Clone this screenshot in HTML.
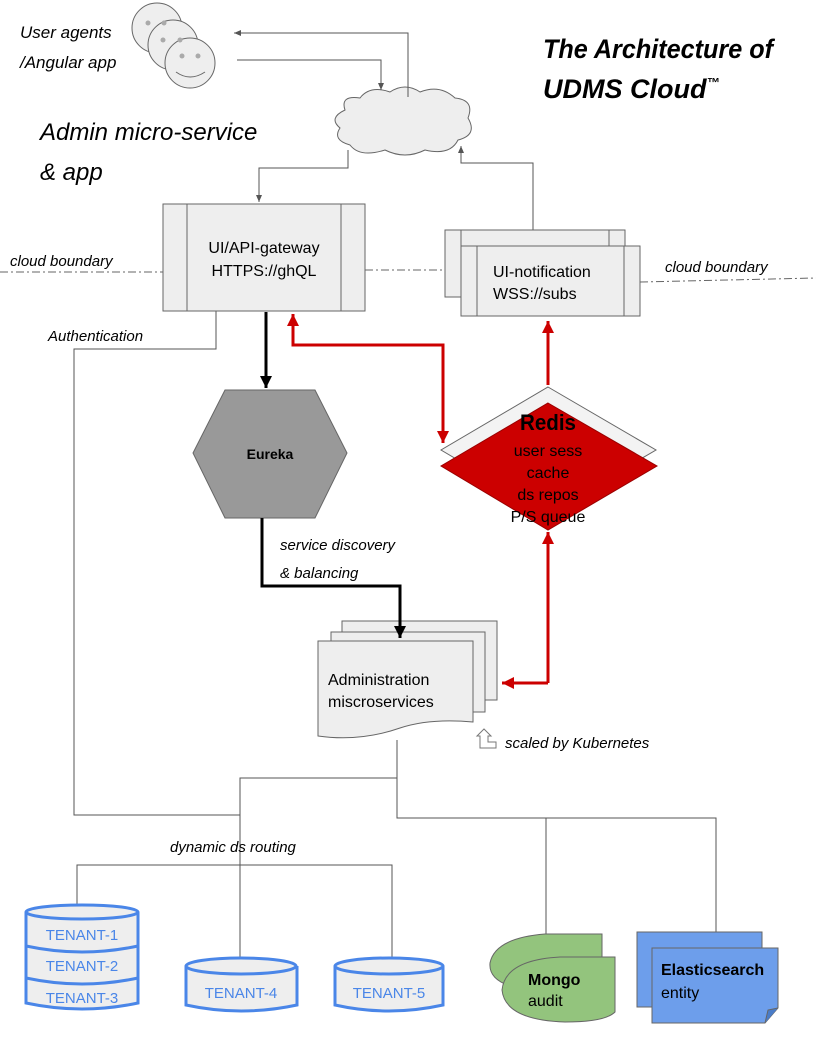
<!DOCTYPE html>
<html><head><meta charset="utf-8"><style>
html,body{margin:0;padding:0;background:#fff;}
svg{display:block;}
.hw{font-family:"Liberation Sans",sans-serif;font-style:italic;}
</style></head><body>
<svg width="816" height="1056" viewBox="0 0 816 1056" xmlns="http://www.w3.org/2000/svg" font-family="Liberation Sans, sans-serif">
<defs>
<marker id="ag" markerWidth="8" markerHeight="8" refX="7" refY="4" orient="auto" markerUnits="userSpaceOnUse"><path d="M0,1 L7,4 L0,7 z" fill="#555"/></marker>
<marker id="ab" markerWidth="14" markerHeight="14" refX="12" refY="7" orient="auto" markerUnits="userSpaceOnUse"><path d="M0,1 L12,7 L0,13 z" fill="#000"/></marker>
<marker id="ar" markerWidth="14" markerHeight="14" refX="12" refY="7" orient="auto" markerUnits="userSpaceOnUse"><path d="M0,1 L12,7 L0,13 z" fill="#c00"/></marker>
</defs>

<!-- faces -->
<g fill="#eee" stroke="#666" stroke-width="1">
<circle cx="157" cy="28" r="25"/><circle cx="173" cy="45" r="25"/><circle cx="190" cy="63" r="25"/>
</g>
<g fill="#aaa"><circle cx="148" cy="23" r="2.5"/><circle cx="164" cy="23" r="2.5"/><circle cx="163" cy="40" r="2.5"/><circle cx="180" cy="40" r="2.5"/><circle cx="182" cy="56" r="2.5"/><circle cx="198" cy="56" r="2.5"/></g>
<path d="M176,72 Q190,82 205,72" fill="none" stroke="#666"/>
<text class="hw" x="20" y="38" font-size="17">User agents</text>
<text class="hw" x="20" y="68" font-size="17">/Angular app</text>
<text class="hw" x="40" y="140" font-size="24">Admin micro-service</text>
<text class="hw" x="40" y="180" font-size="24">&amp; app</text>
<text x="543" y="58" font-size="27" font-weight="bold" font-style="italic" textLength="230" lengthAdjust="spacingAndGlyphs">The Architecture of</text>
<text x="543" y="98" font-size="27" font-weight="bold" font-style="italic">UDMS Cloud<tspan font-size="13" dy="-11">™</tspan></text>

<!-- cloud -->
<path d="M345,110 Q340,95 360,98 Q370,85 390,92 Q405,82 420,92 Q440,84 455,98 Q475,100 468,118 Q478,135 458,140 Q450,156 425,150 Q405,160 385,150 Q360,158 350,145 Q332,140 340,128 Q328,118 345,110 z" fill="#eee" stroke="#666"/>

<!-- grey connectors -->
<g fill="none" stroke="#555" stroke-width="1">
<path d="M408,97 V33 H234" marker-end="url(#ag)"/>
<path d="M237,60 H381 V90" marker-end="url(#ag)"/>
<path d="M348,150 V168 H259 V202" marker-end="url(#ag)"/>
<path d="M533,230 V163 H461 V146" marker-end="url(#ag)"/>
<path d="M216,311 V349 H74 V815 H240"/>
<path d="M397,740 V778 H240 V865"/>
<path d="M77,905 V865 H392 V960"/>
<path d="M240,865 V960"/>
<path d="M397,778 V818 H716 V935"/>
<path d="M546,818 V935"/>
</g>

<!-- boundary -->
<g stroke="#666" stroke-dasharray="8,3,2,3" fill="none">
<path d="M0,272 H163"/><path d="M365,270 H445"/><path d="M640,282 L816,278"/>
</g>
<text class="hw" x="10" y="266" font-size="15">cloud boundary</text>
<text class="hw" x="665" y="272" font-size="15">cloud boundary</text>
<text class="hw" x="48" y="341" font-size="15">Authentication</text>

<!-- gateway -->
<rect x="163" y="204" width="202" height="107" fill="#eee" stroke="#666"/>
<path d="M187,204 V311 M341,204 V311" stroke="#666"/>
<text x="264" y="253" font-size="16" text-anchor="middle">UI/API-gateway</text>
<text x="264" y="276" font-size="16" text-anchor="middle">HTTPS://ghQL</text>

<!-- notification -->
<rect x="445" y="230" width="180" height="67" fill="#eee" stroke="#666"/>
<path d="M461,230 V297 M609,230 V297" stroke="#666"/>
<rect x="461" y="246" width="179" height="70" fill="#eee" stroke="#666"/>
<path d="M477,246 V316 M624,246 V316" stroke="#666"/>
<text x="493" y="277" font-size="16">UI-notification</text>
<text x="493" y="299" font-size="16">WSS://subs</text>

<!-- eureka -->
<polygon points="225,390 315,390 347,453 315,518 225,518 193,453" fill="#999" stroke="#666"/>
<text x="270" y="459" font-size="14" font-weight="bold" text-anchor="middle">Eureka</text>

<!-- admin docs -->
<rect x="342" y="621" width="155" height="79" fill="#eee" stroke="#666"/>
<rect x="331" y="632" width="154" height="80" fill="#eee" stroke="#666"/>
<path d="M318,641 H473 V722 Q430,718 400,728 Q360,742 318,736 z" fill="#eee" stroke="#666"/>
<text x="328" y="685" font-size="16">Administration</text>
<text x="328" y="707" font-size="16">miscroservices</text>
<path d="M480,748 V736 H477 L484,729 L491,736 H488 V742 H496 V748 z" fill="#fff" stroke="#777"/>
<text class="hw" x="505" y="748" font-size="15">scaled by Kubernetes</text>
<text class="hw" x="170" y="852" font-size="15">dynamic  ds routing</text>

<!-- black arrows -->
<path d="M266,312 V388" stroke="#000" stroke-width="3" fill="none" marker-end="url(#ab)"/>
<path d="M262,518 V586 H400 V638" stroke="#000" stroke-width="3" fill="none" marker-end="url(#ab)"/>
<text class="hw" x="280" y="550" font-size="15">service  discovery</text>
<text class="hw" x="280" y="578" font-size="15">&amp; balancing</text>

<!-- redis -->
<polygon points="548,387 656,450 548,513 441,450" fill="#f3f3f3" stroke="#666"/>
<polygon points="548,403 657,466 548,530 441,466" fill="#c00" stroke="#900"/>
<text x="548" y="430" font-size="22" font-weight="bold" text-anchor="middle" textLength="56" lengthAdjust="spacingAndGlyphs">Redis</text>
<text x="548" y="456" font-size="16" text-anchor="middle">user sess</text>
<text x="548" y="478" font-size="16" text-anchor="middle">cache</text>
<text x="548" y="500" font-size="16" text-anchor="middle">ds repos</text>
<text x="548" y="522" font-size="16" text-anchor="middle">P/S queue</text>

<!-- red connectors -->
<g stroke="#c00" stroke-width="3" fill="none">
<path d="M443,430 V345 H293 V314" marker-end="url(#ar)"/>
<path d="M443,345 V443" marker-end="url(#ar)"/>
<path d="M548,385 V321" marker-end="url(#ar)"/>
<path d="M548,683 V532" marker-end="url(#ar)"/>
<path d="M548,683 H502" marker-end="url(#ar)"/>
</g>

<!-- tenants -->
<g fill="#eee" stroke="#4a86e8" stroke-width="3">
<path d="M26,912 V1003 Q82,1015 138,1003 V912"/>
<ellipse cx="82" cy="912" rx="56" ry="7"/>
<path d="M26,946 Q82,958 138,946 M26,978 Q82,990 138,978" fill="none"/>
<path d="M186,966 V1005 Q241,1017 297,1005 V966"/>
<ellipse cx="241" cy="966" rx="55" ry="8"/>
<path d="M335,966 V1005 Q389,1017 443,1005 V966"/>
<ellipse cx="389" cy="966" rx="54" ry="8"/>
</g>
<g fill="#4a86e8" font-size="15" text-anchor="middle">
<text x="82" y="940">TENANT-1</text><text x="82" y="971">TENANT-2</text><text x="82" y="1003">TENANT-3</text>
<text x="241" y="998">TENANT-4</text><text x="389" y="998">TENANT-5</text>
</g>

<!-- mongo -->
<path d="M602,934 V990 L530,990 Q488,985 490,963 Q495,938 545,934 z" fill="#93c47d" stroke="#666"/>
<path d="M615,957 V1012 Q605,1022 565,1022 Q505,1020 502,990 Q505,960 560,957 z" fill="#93c47d" stroke="#666"/>
<text x="528" y="985" font-size="16" font-weight="bold">Mongo</text>
<text x="528" y="1006" font-size="16">audit</text>

<!-- elastic -->
<rect x="637" y="932" width="125" height="75" fill="#6d9eeb" stroke="#666"/>
<path d="M652,948 H778 V1008 L765,1023 H652 z" fill="#6d9eeb" stroke="#666"/>
<path d="M765,1023 L768,1010 L778,1008" fill="#4a7cc8" stroke="#666"/>
<text x="661" y="975" font-size="16" font-weight="bold">Elasticsearch</text>
<text x="661" y="998" font-size="16">entity</text>
</svg>
</body></html>
